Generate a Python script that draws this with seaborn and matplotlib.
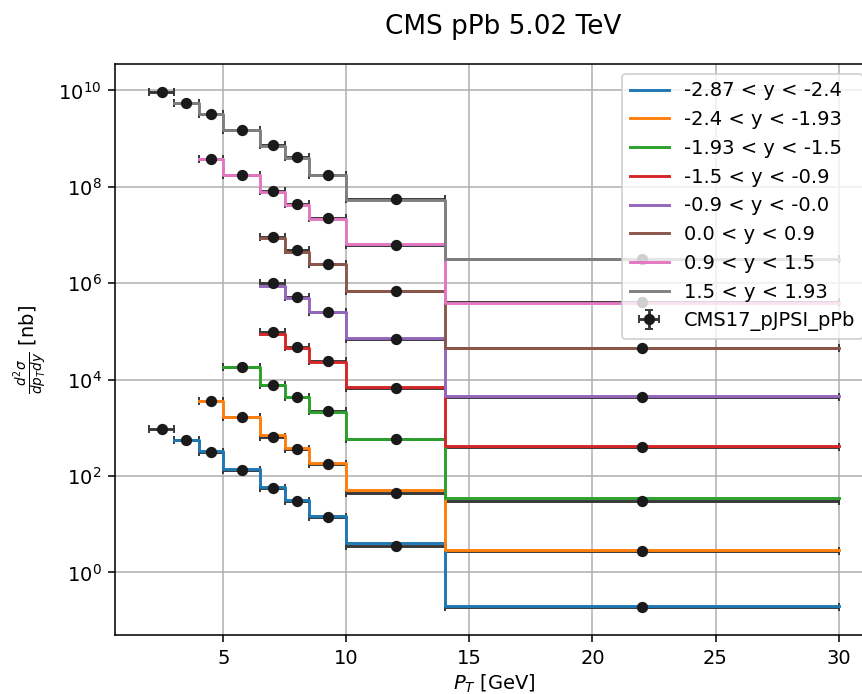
import numpy as np
import pandas as pd
import seaborn as sns
from matplotlib import pyplot as plt
from matplotlib.ticker import NullLocator

# pT bin edges [GeV] shared by all rapidity slices
edges = [2, 3, 4, 5, 6.5, 7.5, 8.5, 10, 14, 30]

labels = ['-2.87 < y < -2.4', '-2.4 < y < -1.93', '-1.93 < y < -1.5', '-1.5 < y < -0.9',
          '-0.9 < y < -0.0', '0.0 < y < 0.9', '0.9 < y < 1.5', '1.5 < y < 1.93']

# first bin index of the prediction / of the measured points, per slice
pred_start = [1, 2, 3, 4, 4, 4, 2, 1]
data_start = [0, 2, 3, 4, 4, 4, 2, 0]

# predictions (step histograms), nb
pred_1 = [570, 333, 139, 60, 31.6, 14.7, 4.0, 0.203]
pred_2 = [3630, 1690, 705, 385, 188, 51, 2.9]
pred_3 = [18400, 7690, 4400, 2150, 574, 35.3]
pred_4 = [88000, 45700, 23400, 6890, 417]
pred_5 = [8.7e5, 4.84e5, 2.48e5, 7.2e4, 4610]
pred_6 = [8.5e6, 4.48e6, 2.45e6, 6.86e5, 4.44e4]
pred_7 = [3.81e8, 1.73e8, 7.65e7, 4.17e7, 2.17e7, 6.38e6, 3.92e5]
pred_8 = [5.53e9, 3.33e9, 1.52e9, 6.98e8, 3.88e8, 1.75e8, 5.3e7, 3.16e6]

# CMS data points, nb
data_1 = [940, 570, 310, 133, 56, 29.7, 13.8, 3.6, 0.19]
data_2 = [3630, 1640, 650, 361, 174, 44.8, 2.8]
data_3 = [18400, 7800, 4340, 2220, 574, 30.6]
data_4 = [96700, 47900, 24200, 6660, 404]
data_5 = [9.9e5, 5.07e5, 2.48e5, 7.0e4, 4400]
data_6 = [9.2e6, 4.86e6, 2.45e6, 6.86e5, 4.44e4]
data_7 = [3.7e8, 1.73e8, 8.27e7, 4.38e7, 2.24e7, 6.17e6, 4.11e5]
data_8 = [9.35e9, 5.53e9, 3.18e9, 1.52e9, 7.23e8, 4.13e8, 1.75e8, 5.48e7, 3.16e6]

preds = [pred_1, pred_2, pred_3, pred_4, pred_5, pred_6, pred_7, pred_8]
datas = [data_1, data_2, data_3, data_4, data_5, data_6, data_7, data_8]
rel_err = 0.08

colors = sns.color_palette('tab10', 8)

fig = plt.figure(figsize=(862 / 140, 694 / 140), dpi=140)
ax = fig.add_axes([0.1334, 0.085, 0.8794, 0.8228])
ax.set_yscale('log')

# prediction step lines
for i in range(8):
    x = edges[pred_start[i]:]
    y = preds[i] + [preds[i][-1]]
    df = pd.DataFrame({'pT': x, 'xsec': y})
    sns.lineplot(data=df, x='pT', y='xsec', ax=ax, color=colors[i], label=labels[i],
                 drawstyle='steps-post', errorbar=None, linewidth=1.5, zorder=3)

# collect measured points
xc, xe, yv = [], [], []
for i in range(8):
    lo = np.array(edges[data_start[i]:-1])
    hi = np.array(edges[data_start[i] + 1:])
    xc += list((lo + hi) / 2)
    xe += list((hi - lo) / 2)
    yv += datas[i]
yv = np.array(yv)
eb = ax.errorbar(xc, yv, xerr=xe, yerr=yv * rel_err, fmt='o', color='#1a1a1a',
                 ecolor='#383838', markersize=4.8, capsize=2, elinewidth=1.5,
                 label='CMS17_pJPSI_pPb', zorder=2)
eb[0].set_zorder(4)

ax.set_xlim(0.6, 31.4)
ax.set_ylim(10 ** -1.30, 10 ** 10.55)
ax.yaxis.set_minor_locator(NullLocator())
ax.grid(True)
ax.set_xlabel(r'$P_T$ [GeV]', labelpad=2.5)
ax.set_ylabel(r'$\frac{d^2\sigma}{dp_T dy}$ [nb]')
ax.legend(loc='upper right')
fig.text(0.5835, 0.951, 'CMS pPb 5.02 TeV', ha='center', va='baseline', fontsize=13.5)

fig.savefig('out.png', dpi=140)
